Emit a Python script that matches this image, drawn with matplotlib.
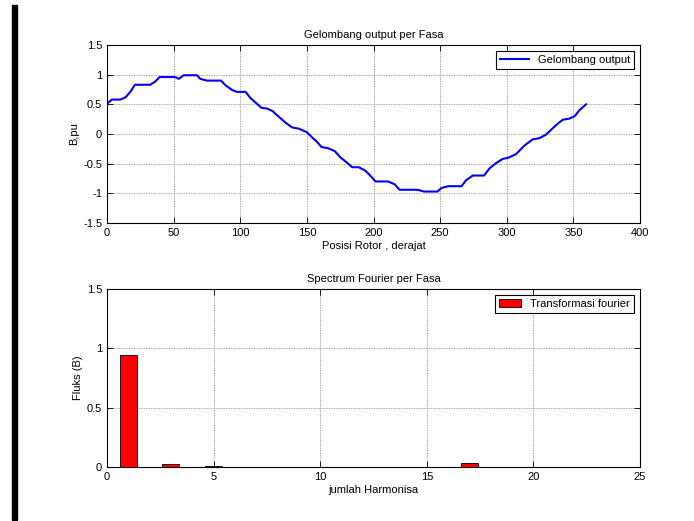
import matplotlib
matplotlib.use("Agg")
import matplotlib.pyplot as plt
from matplotlib.patches import Rectangle

plt.rcParams['font.family'] = ['Liberation Sans', 'DejaVu Sans']

# Top: output waveform (degree, B pu)
pos_deg = [0, 3.75, 10, 14, 17.5, 21, 32.5, 36, 39.5, 51, 54, 57.5, 67.5, 70, 75, 85.5,
           89, 94, 97.5, 104, 107.5, 111, 116, 120, 124, 129, 134, 139, 144, 150, 154,
           157.5, 161, 166, 171, 175, 181, 184, 189, 194, 197.5, 201.5, 211, 216, 219.5,
           233, 238, 248, 251, 256, 266, 269.5, 274.5, 283, 287, 292, 297, 301, 307,
           313, 319.5, 324.5, 329.5, 337, 342, 347, 351, 354.5, 359.5]
b_pu = [0.51, 0.58, 0.58, 0.62, 0.71, 0.83, 0.83, 0.88, 0.96, 0.96, 0.93, 0.99, 0.99, 0.93,
        0.90, 0.90, 0.82, 0.74, 0.71, 0.71, 0.61, 0.54, 0.44, 0.43, 0.39, 0.29, 0.19, 0.11,
        0.09, 0.03, -0.06, -0.13, -0.22, -0.24, -0.29, -0.39, -0.50, -0.56, -0.56, -0.62,
        -0.70, -0.80, -0.80, -0.85, -0.94, -0.94, -0.97, -0.97, -0.91, -0.88, -0.88, -0.78,
        -0.70, -0.70, -0.58, -0.49, -0.42, -0.40, -0.34, -0.20, -0.09, -0.07, -0.01, 0.15,
        0.24, 0.26, 0.30, 0.40, 0.50]

# Bottom: Fourier spectrum
harmonics = [1, 3, 5, 7, 9, 11, 13, 15, 17, 19, 21, 23]
flux = [0.946, 0.028, 0.005, 0.004, 0.004, 0.004, 0.004, 0.004, 0.034, 0.004, 0.004, 0.004]

fig = plt.figure(figsize=(6.94, 5.21), dpi=100)
fig.patches.append(Rectangle((12/694, 1-520/521), 5/694, 515/521,
                             transform=fig.transFigure, color='black', zorder=0))

fs = 8

def style(ax):
    ax.set_axisbelow(True)
    ax.grid(True, color='#8c8c8c', linestyle=(0, (1, 1)), linewidth=0.6)
    ax.tick_params(direction='in', top=True, right=True, labelsize=fs, length=4, width=0.6)
    for s in ax.spines.values():
        s.set_linewidth(0.8)

ax1 = fig.add_axes([107/694, 1-223/521, 533/694, 178/521])
ax1.plot(pos_deg, b_pu, color='#0000ff', linewidth=1.5, label='Gelombang output')
ax1.set_xlim(0, 400)
ax1.set_ylim(-1.5, 1.5)
ax1.set_xticks(range(0, 401, 50))
ax1.set_yticks([-1.5, -1, -0.5, 0, 0.5, 1, 1.5])
ax1.set_yticklabels(['-1.5', '-1', '-0.5', '0', '0.5', '1', '1.5'])
ax1.set_title('Gelombang output per Fasa', fontsize=fs, pad=5)
ax1.set_xlabel('Posisi Rotor , derajat', fontsize=fs, labelpad=2)
ax1.set_ylabel('B,pu', fontsize=fs, labelpad=3)
style(ax1)
leg1 = ax1.legend(loc='upper right', fontsize=fs, fancybox=False, framealpha=1,
                  edgecolor='black', borderaxespad=0.5, handlelength=2.6)
leg1.get_frame().set_linewidth(0.8)

ax2 = fig.add_axes([107/694, 1-467/521, 533/694, 178/521])
ax2.bar(harmonics, flux, width=0.8, color='#ff0000', edgecolor='black', linewidth=0.6,
        label='Transformasi fourier', zorder=3)
ax2.set_xlim(0, 25)
ax2.set_ylim(0, 1.5)
ax2.set_xticks(range(0, 26, 5))
ax2.set_yticks([0, 0.5, 1, 1.5])
ax2.set_yticklabels(['0', '0.5', '1', '1.5'])
ax2.set_title('Spectrum Fourier per Fasa', fontsize=fs, pad=5)
ax2.set_xlabel('jumlah Harmonisa', fontsize=fs, labelpad=2)
ax2.set_ylabel('Fluks (B)', fontsize=fs, labelpad=3)
style(ax2)
leg2 = ax2.legend(loc='upper right', fontsize=fs, fancybox=False, framealpha=1,
                  edgecolor='black', borderaxespad=0.5, handlelength=2.0)
leg2.get_frame().set_linewidth(0.8)

fig.savefig('out.png', dpi=100, facecolor='white')
